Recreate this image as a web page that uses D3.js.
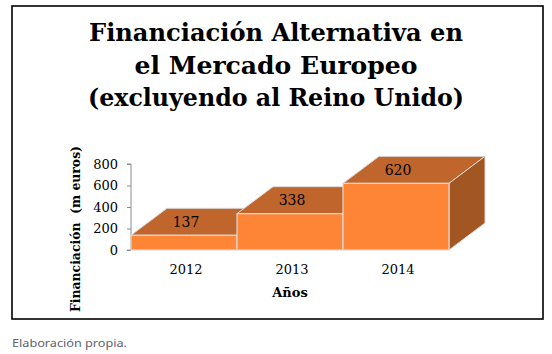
<!DOCTYPE html>
<html><head><meta charset="utf-8">
<script src="https://cdn.jsdelivr.net/npm/d3@7"></script>
<style>body{margin:0;background:#fff}svg{display:block}</style>
</head><body>
<svg id="c" width="552" height="354"></svg>
<script>
const categories = ["2012", "2013", "2014"];
const values = [137, 338, 620];
const yTicks = [0, 200, 400, 600, 800];
const titleLines = ["Financiación Alternativa en", "el Mercado Europeo", "(excluyendo al Reino Unido)"];
const yTitle = "Financiación  (m euros)";
const xTitle = "Años";
const footer = "Elaboración propia.";

const svg = d3.select("#c");
const serif = "'DejaVu Serif','Liberation Serif',serif";

// frame
svg.append("rect").attr("x", 12).attr("y", 6).attr("width", 531).attr("height", 313)
  .attr("fill", "#fff").attr("stroke", "#000").attr("stroke-width", 1.6);

// title
const tW = [374, 283, 376], tY = [41, 74, 106];
titleLines.forEach((t, i) => {
  svg.append("text").attr("x", 276).attr("y", tY[i]).attr("text-anchor", "middle")
    .attr("font-family", serif).attr("font-weight", "bold").attr("font-size", 25)
    .attr("textLength", tW[i]).attr("lengthAdjust", "spacingAndGlyphs").text(t);
});

const x = d3.scaleBand().domain(categories).range([131, 449]).padding(0);
const y = d3.scaleLinear().domain([0, 800]).range([250, 164]);
const dx = 36, dy = -27;

// y axis
const ax = svg.append("g").attr("transform", "translate(131,0)")
  .call(d3.axisLeft(y).tickValues(yTicks).tickSize(4).tickPadding(9));
ax.select(".domain").attr("stroke", "#8c8c8c").attr("d", `M-4,${y(800)}H0V${y(0)}H-4`);
ax.selectAll(".tick line").attr("stroke", "#8c8c8c");
ax.selectAll(".tick text").attr("font-family", serif).attr("font-size", 13).attr("fill", "#000");

// bars
const edge = "#d9d9d9";
categories.forEach((c, i) => {
  const x0 = x(c), x1 = x0 + x.bandwidth(), yt = y(values[i]), yb = y(0);
  const g = svg.append("g");
  g.append("path").attr("d", `M${x0},${yt}L${x0+dx},${yt+dy}L${x1+dx},${yt+dy}L${x1},${yt}Z`)
    .attr("fill", "#c0652b").attr("stroke", edge).attr("stroke-width", 1);
  g.append("path").attr("d", `M${x1},${yt}L${x1+dx},${yt+dy}L${x1+dx},${yb+dy}L${x1},${yb}Z`)
    .attr("fill", "#a25622").attr("stroke", edge).attr("stroke-width", 1);
  g.append("rect").attr("x", x0).attr("y", yt).attr("width", x.bandwidth()).attr("height", yb - yt)
    .attr("fill", "#fd8535").attr("stroke", edge).attr("stroke-width", 1.2);
  svg.append("text").attr("x", x0 + x.bandwidth() / 2 + 2).attr("y", yt + dy / 2 + 5)
    .attr("text-anchor", "middle").attr("font-family", serif).attr("font-size", 14)
    .attr("fill", "#000").text(values[i]);
});

// x labels
categories.forEach(c => {
  svg.append("text").attr("x", x(c) + x.bandwidth() / 2 + 2).attr("y", 274)
    .attr("text-anchor", "middle").attr("font-family", serif).attr("font-size", 13).text(c);
});
svg.append("text").attr("x", 290).attr("y", 297).attr("text-anchor", "middle")
  .attr("font-family", serif).attr("font-weight", "bold").attr("font-size", 13).text(xTitle);

// y title
svg.append("text").attr("transform", "translate(80,229) rotate(-90)").attr("text-anchor", "middle")
  .attr("font-family", serif).attr("font-weight", "bold").attr("font-size", 13)
  .attr("textLength", 166).attr("lengthAdjust", "spacingAndGlyphs")
  .style("white-space", "pre").text(yTitle);

// footer
svg.append("text").attr("x", 12).attr("y", 347).attr("font-family", "'Noto Sans',sans-serif")
  .attr("font-size", 11).attr("fill", "#62626e")
  .attr("textLength", 115).attr("lengthAdjust", "spacingAndGlyphs").text(footer);
</script>
</body></html>
